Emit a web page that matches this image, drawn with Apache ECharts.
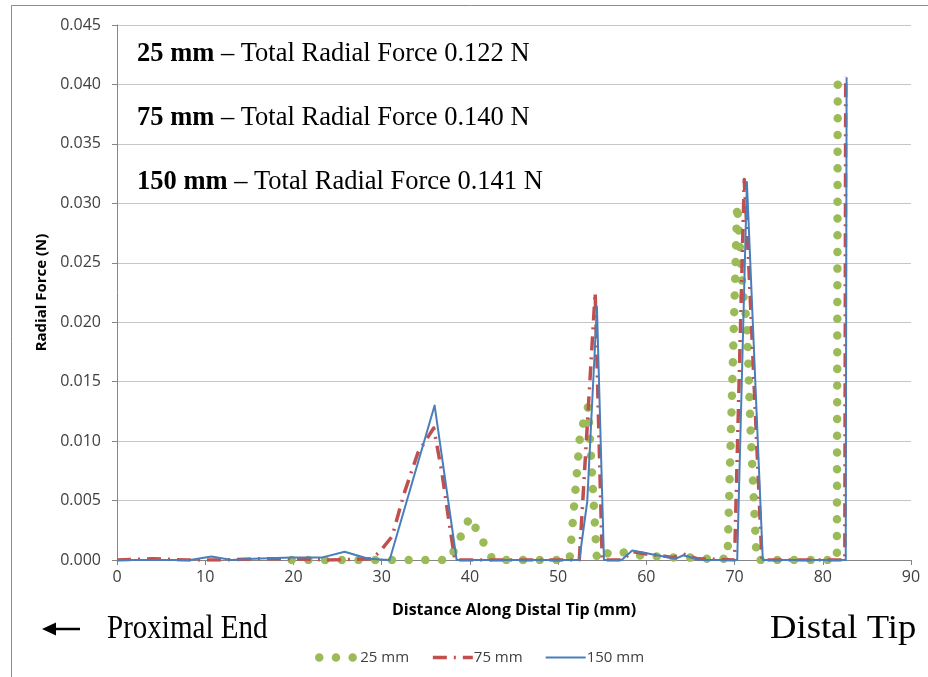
<!DOCTYPE html>
<html>
<head>
<meta charset="utf-8">
<script src="https://cdn.jsdelivr.net/npm/echarts@6/dist/echarts.min.js"></script>
<style>
  html, body { margin: 0; padding: 0; background: #ffffff; }
  #chart { width: 928px; height: 677px; }
</style>
</head>
<body>
<div id="chart"></div>
<script>
// Radial force along the distal tip for three catheter lengths
const seriesNames = ['25 mm', '75 mm', '150 mm'];

// 25 mm (distance in mm, radial force in N)
const dist25 = [19.8, 37.7, 40.0, 42.6, 51.3, 52.5, 53.4, 54.4, 55.9, 57.0, 59.0, 61.2, 63.2, 65.1, 67.0, 69.2, 70.3, 70.9, 71.4, 71.8, 72.5, 81.6, 81.7];
const force25 = [0, 0, 0.0036, 0, 0, 0.0106, 0.0129, 0, 0.0007, 0.0007, 0.0004, 0.0003, 0.0002, 0.0002, 0.0001, 0.0001, 0.0299, 0.0228, 0.0199, 0.0112, 0, 0, 0.0404];

// 75 mm
const dist75 = [0, 4.0, 8.0, 12.0, 16.0, 20.0, 24.0, 28.8, 29.8, 31.2, 32.5, 34.1, 35.9, 36.8, 37.5, 38.3, 52.4, 54.2, 55.0, 57.3, 58.4, 60.0, 61.5, 63.0, 64.2, 65.8, 70.0, 71.1, 71.6, 73.1, 82.5, 82.6];
const force75 = [0, 0.0001, 0, 0, 0.0001, 0.0001, 0, 0.0001, 0.0007, 0.0020, 0.0055, 0.0090, 0.0111, 0.0075, 0.0039, 0, 0, 0.0225, 0, 0, 0.0007, 0.0005, 0.0004, 0.0002, 0.0005, 0.0001, 0, 0.0320, 0.0250, 0, 0, 0.0407];

// 150 mm
const dist150 = [0, 8.3, 10.7, 13.0, 15.5, 19.8, 23.2, 25.8, 28.5, 30.9, 36.0, 38.5, 52.4, 53.3, 54.4, 55.2, 57.2, 58.4, 63.3, 64.2, 66.1, 70.3, 71.4, 73.2, 82.6, 82.7];
const force150 = [0, 0, 0.0003, 0, 0.0001, 0.0002, 0.0002, 0.0007, 0.0001, 0, 0.0130, 0, 0, 0.0049, 0.0213, 0, 0, 0.0008, 0.0001, 0.0004, 0, 0, 0.0318, 0, 0, 0.0406];

// Total radial force per length, shown in the annotation block
const totals = ['0.122', '0.140', '0.141'];

const zip = (xs, ys) => xs.map((x, i) => [x, ys[i]]);

const tickFont = { fontFamily: 'Open Sans', fontSize: 16, color: '#404040' };
const titleFont = { fontFamily: 'Open Sans', fontSize: 15, fontWeight: 'bold', color: '#000' };

const styles = [
  { color: '#9BBB59', width: 8.5, type: [0.01, 16.7], cap: 'round' },
  { color: '#C0504D', width: 3.5, type: [14, 7, 2, 7], cap: 'butt' },
  { color: '#4A7EBB', width: 2, type: 'solid', cap: 'butt' }
];
const datasets = [zip(dist25, force25), zip(dist75, force75), zip(dist150, force150)];

const chart = echarts.init(document.getElementById('chart'), null, { renderer: 'canvas' });

const annotation = seriesNames.map((name, i) => ({
  type: 'text',
  left: 137,
  top: 41 + i * 64,
  style: {
    text: '{b|' + name + '} – Total Radial Force ' + totals[i] + ' N',
    rich: {
      b: { fontFamily: 'Liberation Serif', fontSize: 26.5, fontWeight: 'bold', fill: '#000' }
    },
    fontFamily: 'Liberation Serif',
    fontSize: 26.5,
    fill: '#000'
  }
}));

chart.setOption({
  animation: false,
  backgroundColor: '#ffffff',
  grid: { left: 117, right: 17, top: 25, bottom: 117 },
  xAxis: {
    type: 'value',
    min: 0,
    max: 90,
    interval: 10,
    name: 'Distance Along Distal Tip (mm)',
    nameLocation: 'middle',
    nameGap: 42,
    nameTextStyle: Object.assign({}, titleFont, { fontSize: 16 }),
    axisLine: { show: true, lineStyle: { color: '#868686', width: 1 } },
    axisTick: { show: true, length: 5, lineStyle: { color: '#868686' } },
    axisLabel: Object.assign({ margin: 9 }, tickFont),
    splitLine: { show: false }
  },
  yAxis: {
    type: 'value',
    min: 0,
    max: 0.045,
    interval: 0.005,
    name: 'Radial Force (N)',
    nameLocation: 'middle',
    nameGap: 66,
    nameTextStyle: titleFont,
    axisLine: { show: true, lineStyle: { color: '#868686', width: 1 } },
    axisTick: { show: true, length: 5, lineStyle: { color: '#868686' } },
    axisLabel: Object.assign({ margin: 16, formatter: v => v.toFixed(3) }, tickFont),
    splitLine: { show: true, lineStyle: { color: '#c6c6c6', width: 1 } }
  },
  legend: {
    bottom: 7,
    left: 310,
    itemWidth: 40,
    itemHeight: 10,
    itemGap: 22,
    textStyle: { fontFamily: 'Open Sans', fontSize: 15, color: '#404040', padding: [0, 0, 0, -4] },
    data: seriesNames.map((name, i) => ({
      name: name,
      itemStyle: { color: 'rgba(0,0,0,0)', borderWidth: 0, opacity: 0 },
      lineStyle: { width: styles[i].width, type: styles[i].type, cap: styles[i].cap, color: styles[i].color }
    }))
  },
  series: seriesNames.map((name, i) => ({
    name: name,
    type: 'line',
    data: datasets[i],
    showSymbol: false,
    symbol: 'none',
    z: 2 + i,
    lineStyle: {
      color: styles[i].color,
      width: styles[i].width,
      type: styles[i].type,
      cap: styles[i].cap,
      join: 'round'
    },
    itemStyle: { color: styles[i].color }
  })),
  graphic: [
    // chart frame
    { type: 'rect', shape: { x: 11.5, y: 5.5, width: 940, height: 700 }, style: { fill: 'none', stroke: '#8c8c8c', lineWidth: 1 }, silent: true },
    ...annotation,
    // arrow pointing to the proximal end
    { type: 'line', shape: { x1: 52, y1: 629, x2: 80, y2: 629 }, style: { stroke: '#000', lineWidth: 2.5 } },
    { type: 'polygon', shape: { points: [[42, 629], [56, 622.5], [56, 635.5]] }, style: { fill: '#000' } },
    {
      type: 'text', x: 107, y: 613, scaleX: 0.88,
      style: { text: 'Proximal End', x: 0, y: 0, fontFamily: 'Liberation Serif', fontSize: 33, fill: '#000' }
    },
    {
      type: 'text', x: 770, y: 613, scaleX: 1.11,
      style: { text: 'Distal Tip', x: 0, y: 0, fontFamily: 'Liberation Serif', fontSize: 33, fill: '#000' }
    }
  ]
});
</script>
</body>
</html>
